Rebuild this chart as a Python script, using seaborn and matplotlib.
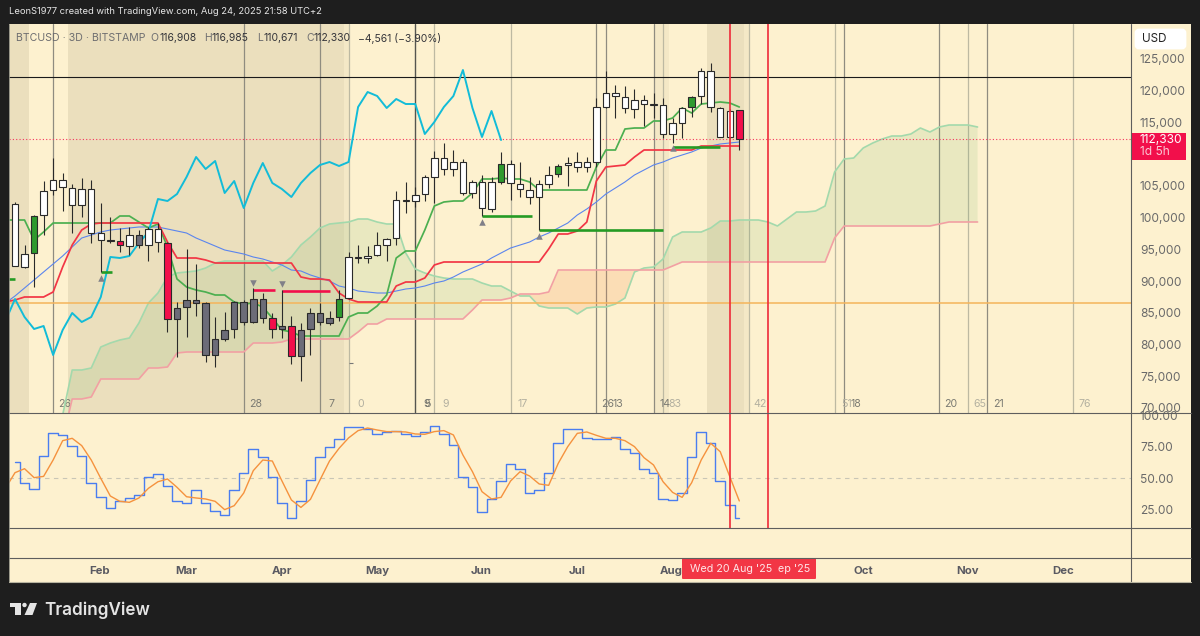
"""BTCUSD 3D ichimoku chart with stochastic pane."""

import matplotlib
matplotlib.use("Agg")
import matplotlib.pyplot as plt
from matplotlib.patches import Circle, FancyBboxPatch, Polygon, Rectangle
import seaborn as sns

# candles, one entry per 3-day bar
wick_high = [102463, 95686, 100414, 105772, 109397, 107033, 105300, 106245, 105930, 102305,
             100099, 98365, 98523, 98050, 98523, 99153, 96159, 86703, 95056, 92692,
             86703, 84339, 85127, 86860, 87018, 88909, 88121, 84969, 88594, 84496,
             83393, 85757, 86545, 85284, 88594, 94583, 95686, 95528, 97735, 96789,
             104196, 105615, 104827, 106718, 110500, 111761, 110658, 109240, 105930, 106718,
             106403, 110343, 109082, 108767, 106403, 105930, 108136, 108452, 109555, 110343,
             109555, 118853, 123108, 120902, 120744, 120272, 119326, 119641, 118853, 115701,
             117435, 119168, 123581, 124369, 117435, 117120, 116985]
body_top = [102148, 94268, 100256, 104196, 105930, 105930, 104669, 104512, 104512, 97577,
            96474, 96316, 97262, 97262, 98208, 98208, 96001, 85757, 87018, 87018,
            86545, 80872, 82290, 86703, 86703, 87176, 87176, 84181, 82920, 82920,
            82290, 84969, 84969, 84181, 87176, 93795, 93795, 93952, 95686, 96632,
            102778, 102778, 103566, 106403, 109397, 109397, 108767, 108767, 105615, 105615,
            105615, 108452, 108452, 105300, 104354, 105300, 106718, 108136, 108609, 108767,
            108767, 117435, 119641, 119641, 119011, 118538, 118538, 117908, 117750, 114913,
            117277, 119011, 123108, 123108, 117277, 116804, 116908]
body_bottom = [92376, 92219, 94425, 100414, 104354, 104827, 101990, 101990, 97577, 96474,
               96316, 95686, 95528, 95686, 95686, 96159, 84023, 84023, 85915, 86545,
               78350, 78350, 80872, 82448, 83551, 83551, 84181, 82448, 82448, 78193,
               78193, 82448, 83551, 83393, 84339, 87333, 93637, 93637, 94110, 95686,
               96789, 102620, 102620, 103724, 106403, 107664, 107664, 103881, 103881, 101517,
               101360, 105615, 105457, 104512, 103251, 103251, 105300, 106876, 108294, 107979,
               107979, 108767, 117435, 119168, 117277, 117120, 117908, 117750, 113180, 113180,
               114913, 117435, 119168, 117435, 112707, 112707, 112330]
wick_low = [92376, 92061, 89067, 97262, 103566, 101044, 97577, 100099, 96001, 91431,
            96001, 94583, 94110, 95213, 93164, 94583, 81975, 78035, 81187, 84496,
            77247, 76459, 80556, 81029, 83078, 83393, 83393, 81029, 81029, 76932,
            74253, 78350, 83078, 83078, 83708, 87176, 92849, 92849, 93952, 93164,
            95686, 100729, 101675, 102620, 102305, 106718, 106560, 103566, 103093, 100256,
            100887, 105300, 102778, 103251, 102148, 98050, 104669, 106403, 104984, 107190,
            107190, 107979, 117277, 115701, 116489, 115701, 114440, 115701, 112549, 111761,
            112549, 115859, 117908, 116647, 112707, 112549, 110671]
candle_kind = list("wwGwwwwwwwwrwgwwrggggggggggrgrggggGwwwwwwwwwwwwwwwwGwwwwwGwwwwwwwwwwwwwGwwwwr")

# ichimoku lines
tenkan = [99626, 99626, 99626, 96474, 97735, 99153, 99153, 99153, 99153, 99153, 99153, 99153,
          100256, 100256, 99311, 98365, 98996, 95371, 90328, 89067, 88594, 88279, 87806, 87806,
          86703, 86388, 86545, 85915, 84181, 82290, 81975, 81344, 81344, 81344, 81344, 81344,
          84339, 84969, 84969, 86072, 87806, 93637, 94740, 94740, 98050, 101833, 102463, 102620,
          102620, 103881, 106088, 106088, 106245, 106088, 106088, 105615, 104354, 104354, 104354,
          104354, 104354, 104354, 107979, 110658, 110658, 113968, 114125, 114125, 115228, 115228,
          115701, 117277, 116489, 117908, 118065, 118223, 118065, 117435]
kijun = [86703, 87018, 87491, 87491, 87491, 88279, 92219, 95686, 98050, 98996, 99153, 99153,
         99153, 99153, 99153, 99153, 99153, 96159, 93637, 93637, 93637, 93322, 92849, 92849,
         92849, 92849, 92849, 92849, 92849, 92849, 92849, 90643, 90328, 90328, 90170, 88121,
         87176, 86703, 86703, 86703, 86703, 89224, 89854, 89854, 90485, 92534, 93007, 93007,
         93007, 93007, 93007, 93007, 93007, 93007, 93007, 93007, 93007, 95056, 97420, 97420,
         97893, 99311, 105772, 107979, 108136, 108294, 109555, 110658, 110658, 110658, 110658,
         110658, 110658, 111288, 111288, 111288, 111288, 111288]
chikou = [83708, 87176, 84339, 82448, 82920, 78350, 82290, 84969, 83551, 84339, 87491, 93795,
          93637, 93952, 96001, 97735, 102936, 102620, 103724, 106403, 109555, 107664, 108924,
          103881, 105772, 101517, 105457, 108609, 105457, 104512, 103251, 105457, 107033, 108294,
          108767, 108136, 108767, 117435, 119799, 119168, 117277, 118696, 117908, 117908, 113180,
          115071, 117435, 119168, 123266, 117277, 112707, 116804, 112234]
moving_avg = [86545, 87648, 88909, 90170, 91431, 92692, 93952, 95371, 96789, 97262, 97735, 98050,
              98208, 98365, 98523, 98523, 98523, 98208, 97893, 97577, 96789, 96159, 95528, 94898,
              94583, 94268, 93795, 93480, 93007, 92534, 91746, 91589, 90958, 90485, 90012, 89224,
              88909, 88436, 88279, 88121, 88121, 88436, 88752, 88909, 89224, 89697, 90012, 90643,
              91431, 92061, 92692, 93637, 94425, 95213, 95686, 96159, 96947, 97577, 98365, 99153,
              100414, 101360, 102463, 103724, 104669, 105615, 106718, 107506, 108294, 108767,
              109397, 109870, 110343, 110973, 111288, 111604, 111761, 111919]
span_a = [68894, 75986, 75986, 76301, 79611, 80241, 80714, 81029, 83393, 86545, 88121, 90643,
          91273, 91431, 91589, 92061, 92849, 93164, 93164, 93164, 93164, 93164, 91589, 92534,
          93795, 95686, 96947, 98365, 98996, 99153, 99311, 99784, 99784, 99311, 98996, 98996,
          94425, 91904, 91273, 90800, 90485, 90328, 90328, 90328, 89697, 89224, 89224, 88436,
          87650, 87650, 86072, 85757, 85757, 85757, 84812, 85757, 85915, 85915, 86388, 87333,
          91431, 92061, 92219, 93480, 96947, 97735, 97735, 97735, 98365, 99468, 99468, 99626,
          99626, 99626, 99311, 98680, 99784, 100887, 100887, 101044, 101833, 107190, 109240,
          109397, 110973, 111761, 112392, 112864, 112864, 113180, 114125, 113495, 114283, 114598,
          114598, 114598, 114283]
span_b = [64954, 71416, 71416, 71731, 74568, 74568, 74568, 74568, 74568, 76301, 76301, 76459,
          78665, 78822, 78822, 78822, 78822, 78822, 78822, 78822, 80241, 80241, 80241, 80399,
          80872, 80872, 80872, 80872, 80872, 80872, 80872, 81975, 83236, 83236, 84023, 84023,
          84023, 84023, 84023, 84023, 84023, 84023, 84023, 85442, 87018, 87018, 87018, 87333,
          87964, 87964, 87964, 88279, 91746, 91746, 91746, 91746, 91746, 91746, 91746, 91746,
          91746, 91746, 91746, 91746, 92376, 93007, 93007, 93007, 93007, 93007, 93007, 93007,
          93007, 93007, 93007, 93007, 93007, 93007, 93007, 93007, 93007, 96789, 98680, 98680,
          98680, 98680, 98680, 98680, 98680, 98680, 98680, 98680, 98996, 99311, 99311, 99311, 99311]

# stochastic pane
stoch_k = [63.2, 46.2, 40.9, 67.7, 86.6, 84.4, 75.8, 67.7, 45.7, 34.9, 25.5, 31.7, 34.1, 36.0,
           51.1, 53.2, 43.8, 31.7, 29.8, 40.1, 29.6, 23.7, 20.4, 40.1, 54.3, 73.1, 67.2, 50.5,
           29.6, 18.0, 31.7, 48.7, 66.7, 75.3, 81.2, 90.9, 90.9, 89.2, 85.5, 87.4, 88.2, 85.2,
           83.9, 87.4, 92.2, 85.2, 76.3, 50.8, 43.0, 22.3, 32.8, 47.6, 61.0, 57.3, 37.6, 40.6,
           54.3, 78.2, 89.5, 89.5, 82.0, 81.7, 81.7, 82.8, 73.1, 69.9, 57.5, 54.3, 32.8, 32.0,
           38.2, 67.2, 87.4, 78.5, 47.8, 28.5, 18.0]
stoch_d = [41.7, 54.3, 57.5, 50.3, 51.3, 64.5, 80.1, 82.0, 76.1, 64.5, 49.7, 35.5, 31.2, 30.4,
           33.9, 41.7, 47.0, 49.2, 42.5, 34.9, 33.9, 33.1, 31.2, 24.5, 27.7, 37.9, 55.9, 64.5,
           63.7, 47.8, 32.3, 26.3, 32.8, 48.4, 63.7, 73.9, 82.3, 88.2, 90.3, 88.7, 87.4, 87.4,
           87.1, 85.5, 85.2, 87.4, 88.2, 84.7, 68.5, 55.1, 39.0, 33.1, 34.4, 47.6, 55.1, 51.6,
           45.2, 44.1, 61.8, 75.3, 86.0, 87.1, 84.4, 82.0, 82.0, 80.1, 75.3, 66.4, 60.5, 47.0,
           38.4, 34.4, 46.2, 64.5, 78.0, 71.2, 51.1, 31.5]

# drawings on the chart
black_level = 122160
orange_level = 86545
last_price = 112330
red_segments = [(25, 27.3, 88594), (28, 33, 88436)]
green_segments = [(-1, 0, 90400), (9, 10.2, 91431), (49, 54.2, 100300), (55, 68, 98100), (69, 74, 111100)]
up_marks = [(9, 90500), (49, 99300), (55, 97150), (69, 110950)]
down_marks = [(25, 89700), (28, 89550)]
red_lines = [75, 79]

vline_bars = [4, 24, 32, 35, 42, 44, 52, 61, 62, 67, 68, 77, 86, 87, 97, 100, 102, 111]
vline_text = ["26", "28", "7", "0", "9", "9", "17", "26", "13", "14", "83", "42", "51", "18", "20", "65", "21", "76"]
vline_dark = [1, 1, 1, 0, 1, 0, 0, 1, 1, 1, 0, 0, 0, 1, 1, 0, 1, 0]

tan_bands = [(-0.63, 1.47), (5.56, 34.5), (72.6, 76.5)]
pale_bands = [(34.5, 35), (67.1, 68.6), (76.5, 77)]

price_ticks = [125000, 120000, 115000, 105000, 100000, 95000, 90000, 85000, 80000, 75000, 70000]
stoch_ticks = [100, 75, 50, 25]
month_names = ["Feb", "Mar", "Apr", "May", "Jun", "Jul", "Aug", "Oct", "Nov", "Dec"]
month_bars = [8.92, 17.94, 28.0, 37.99, 48.9, 58.97, 68.9, 88.98, 100.0, 109.97]

CREAM = "#FDF1CF"
DARK = "#1E1E1E"
LINE = "#5E5E5E"
LABEL = "#6A6A6A"
BODY = {"w": "#FFFFFF", "g": "#6C6C78", "G": "#2E9A2E", "r": "#F20F4B"}

sns.set_theme(style="white")
plt.rcParams["font.family"] = ["Inter", "DejaVu Sans"]

W, H = 1200, 636
fig = plt.figure(figsize=(12, 6.36), dpi=100, facecolor=DARK)


def px_axes(x0, y0, x1, y1, **kw):
    return fig.add_axes([x0 / W, 1 - y1 / H, (x1 - x0) / W, (y1 - y0) / H], **kw)


# cream panel behind everything, holds the right scale area too
back = px_axes(9, 24, 1191, 582)
back.set_facecolor(CREAM)
back.set_xticks([])
back.set_yticks([])
for s in back.spines.values():
    s.set_visible(False)

ax = px_axes(9, 24, 1131, 413, facecolor="none")
osc = px_axes(9, 413, 1131, 528, facecolor="none")
tim = px_axes(9, 558, 1131, 582, facecolor="none")

xlim = (-0.63, 117.1)
bars = list(range(77))

# shaded periods and event lines
for a, b in tan_bands:
    ax.axvspan(a, b, color="#EBDFBD", lw=0, zorder=0)
for a, b in pale_bands:
    ax.axvspan(a, b, color="#F4E8C6", lw=0, zorder=0)

for bar, label, dark in zip(vline_bars, vline_text, vline_dark):
    ax.axvline(bar, color="#8F8C80" if dark else "#BDB9A2", lw=0.9, zorder=1)
    ax.text(bar + 1.22, 70628, label, ha="center", va="center", fontsize=7.6,
            color="#7A7A72" if dark else "#B3B0A0", zorder=2)
ax.text(43.22, 70628, "5", ha="center", va="center", fontsize=7.6, color="#7A7A72", zorder=2)
ax.axvline(42, color="#55554F", lw=0.9, zorder=1)

# cloud
span_x = list(range(5, 102))
ax.fill_between(span_x, span_a, span_b, where=[a >= b for a, b in zip(span_a, span_b)],
                interpolate=True, color="#4CA64C", alpha=0.11, lw=0, zorder=1)
ax.fill_between(span_x, span_a, span_b, where=[a < b for a, b in zip(span_a, span_b)],
                interpolate=True, color="#F57C3A", alpha=0.17, lw=0, zorder=1)
sns.lineplot(x=span_x, y=span_a, ax=ax, color="#A3D9AC", lw=1.2, estimator=None, errorbar=None, zorder=2)
sns.lineplot(x=span_x, y=span_b, ax=ax, color="#F2A0A3", lw=1.2, estimator=None, errorbar=None, zorder=2)

# level lines
ax.axhline(orange_level, color="#F5B45A", lw=1.1, zorder=2)
ax.axhline(black_level, color="#1A1A1A", lw=0.8, zorder=2)
ax.axhline(last_price, color="#F5355F", lw=0.8, ls=(0, (1, 2)), zorder=3)
ax.hlines(77100, 35, 35.45, color="#777777", lw=0.8, zorder=2)

# ichimoku and moving average
line_x = list(range(-1, 77))
sns.lineplot(x=line_x, y=moving_avg, ax=ax, color="#5B85EE", lw=0.8, estimator=None, errorbar=None, zorder=3)
sns.lineplot(x=line_x, y=tenkan, ax=ax, color="#4CAF50", lw=1.25, estimator=None, errorbar=None, zorder=3)
sns.lineplot(x=line_x, y=kijun, ax=ax, color="#F23645", lw=1.25, estimator=None, errorbar=None, zorder=3)
sns.lineplot(x=list(range(-1, 52)), y=chikou, ax=ax, color="#12BCD8", lw=1.4, estimator=None, errorbar=None, zorder=3)

for a, b, level in green_segments:
    ax.hlines(level, a, b, color="#259B24", lw=1.9, zorder=4)
for a, b, level in red_segments:
    ax.hlines(level, a, b, color="#F20F4B", lw=1.9, zorder=4)

# candles
ax.vlines(bars, wick_low, wick_high, color="#2A2A2A", lw=0.8, zorder=5)
ax.bar(bars, [t - b for t, b in zip(body_top, body_bottom)], bottom=body_bottom, width=0.68,
       color=[BODY[k] for k in candle_kind], edgecolor="#2A2A2A", lw=0.8, zorder=6)

ax.scatter([m[0] for m in up_marks], [m[1] for m in up_marks], marker="^", s=22, color="#808088", lw=0, zorder=6)
ax.scatter([m[0] for m in down_marks], [m[1] for m in down_marks], marker="v", s=22, color="#808088", lw=0, zorder=6)

ax.set_xlim(xlim)
ax.set_ylim(69209, 130516)
ax.set_xticks([])
ax.yaxis.tick_right()
ax.set_yticks(price_ticks)
ax.set_yticklabels([f"{p:,}" for p in price_ticks])
ax.tick_params(axis="y", length=0, pad=6.4, labelsize=8.6, labelcolor=LABEL)

# stochastic pane
osc.axhline(50, color="#C9C6B6", lw=0.8, ls=(0, (4, 4)), zorder=1)
sns.lineplot(x=bars, y=stoch_k, ax=osc, color="#4A7DF0", lw=1, estimator=None, errorbar=None,
             drawstyle="steps-mid", zorder=3)
sns.lineplot(x=line_x, y=stoch_d, ax=osc, color="#F5923E", lw=1, estimator=None, errorbar=None, zorder=4)
osc.set_xlim(xlim)
osc.set_ylim(9.7, 102.4)
osc.set_xticks([])
osc.yaxis.tick_right()
osc.set_yticks(stoch_ticks)
osc.set_yticklabels([f"{t:.2f}" for t in stoch_ticks])
osc.tick_params(axis="y", length=0, pad=6.4, labelsize=8.6, labelcolor=LABEL)

for a in (ax, osc):
    for bar in red_lines:
        a.axvline(bar, color="#EE2A3A", lw=1.2, zorder=7)

# time axis
tim.set_xlim(xlim)
tim.set_ylim(0, 1)
tim.set_xticks([])
tim.set_yticks([])
for name, pos in zip(month_names, month_bars):
    tim.text(pos, 0.46, name, ha="center", va="center", fontsize=8.2, fontweight="bold", color="#5A5A62")

for a in (ax, osc, tim):
    for s in a.spines.values():
        s.set_visible(False)

# chrome: separators, header, price tag, logo
top = px_axes(0, 0, W, H, facecolor="none")
top.set_xlim(0, W)
top.set_ylim(H, 0)
top.axis("off")
for y in (413, 528, 558):
    top.plot([9, 1191], [y, y], color=LINE, lw=0.8)
top.plot([1131, 1131], [24, 582], color=LINE, lw=0.8)
top.plot([9, 9], [24, 582], color="#8A8A80", lw=0.6)
top.plot([9, 1191], [582, 582], color="#B8B4A0", lw=0.8)

top.text(9, 11, "LeonS1977 created with TradingView.com, Aug 24, 2025 21:58 UTC+2",
         color="#E6E6E6", fontsize=6.75, va="center", ha="left")

head_gray = "#6E6E70"
head_dark = "#35353A"
top.text(16, 38, "BTCUSD · 3D · BITSTAMP", color=head_gray, fontsize=7.6, va="center")
for x, s, c in [(150, "O", head_gray), (159, "116,908", head_dark), (204, "H", head_gray), (212, "116,985", head_dark),
                (257, "L", head_gray), (263, "110,671", head_dark), (306, "C", head_gray), (313, "112,330", head_dark),
                (358, "−4,561 (−3.90%)", head_dark)]:
    top.text(x, 38, s, color=c, fontsize=7.5, va="center")

top.add_patch(FancyBboxPatch((1136, 30), 49, 18, boxstyle="round,pad=0,rounding_size=3", fc="white", ec="white", lw=2))
top.text(1142, 39, "USD", color="#222222", fontsize=8.4, va="center")

top.add_patch(Rectangle((1131, 133), 55, 27, fc="#F20F4B", ec="none"))
top.text(1140, 140, "112,330", color="white", fontsize=8.6, va="center")
top.text(1140, 152, "1d 5h", color="#FBC7D4", fontsize=8.6, va="center")

top.add_patch(FancyBboxPatch((682, 558), 134, 21, boxstyle="round,pad=0,rounding_size=1", fc="#F23645", ec="none"))
top.text(690, 569, "Wed 20 Aug '25", color="#FFE6E8", fontsize=7.7, va="center")
top.text(778, 569, "ep '25", color="#FFE6E8", fontsize=7.7, va="center")

logo = "#E4E4E4"
top.add_patch(Rectangle((10, 603), 11, 4, fc=logo, ec="none"))
top.add_patch(Rectangle((15, 603), 6, 12, fc=logo, ec="none"))
top.add_patch(Circle((24.5, 605), 2.2, fc=logo, ec="none"))
top.add_patch(Polygon([(30, 603), (37, 603), (32.5, 615), (24.5, 615)], fc=logo, ec="none"))
top.text(44, 610, "TradingView", color=logo, fontsize=12.3, fontweight="semibold", va="center")

fig.savefig("out.png", dpi=100)
